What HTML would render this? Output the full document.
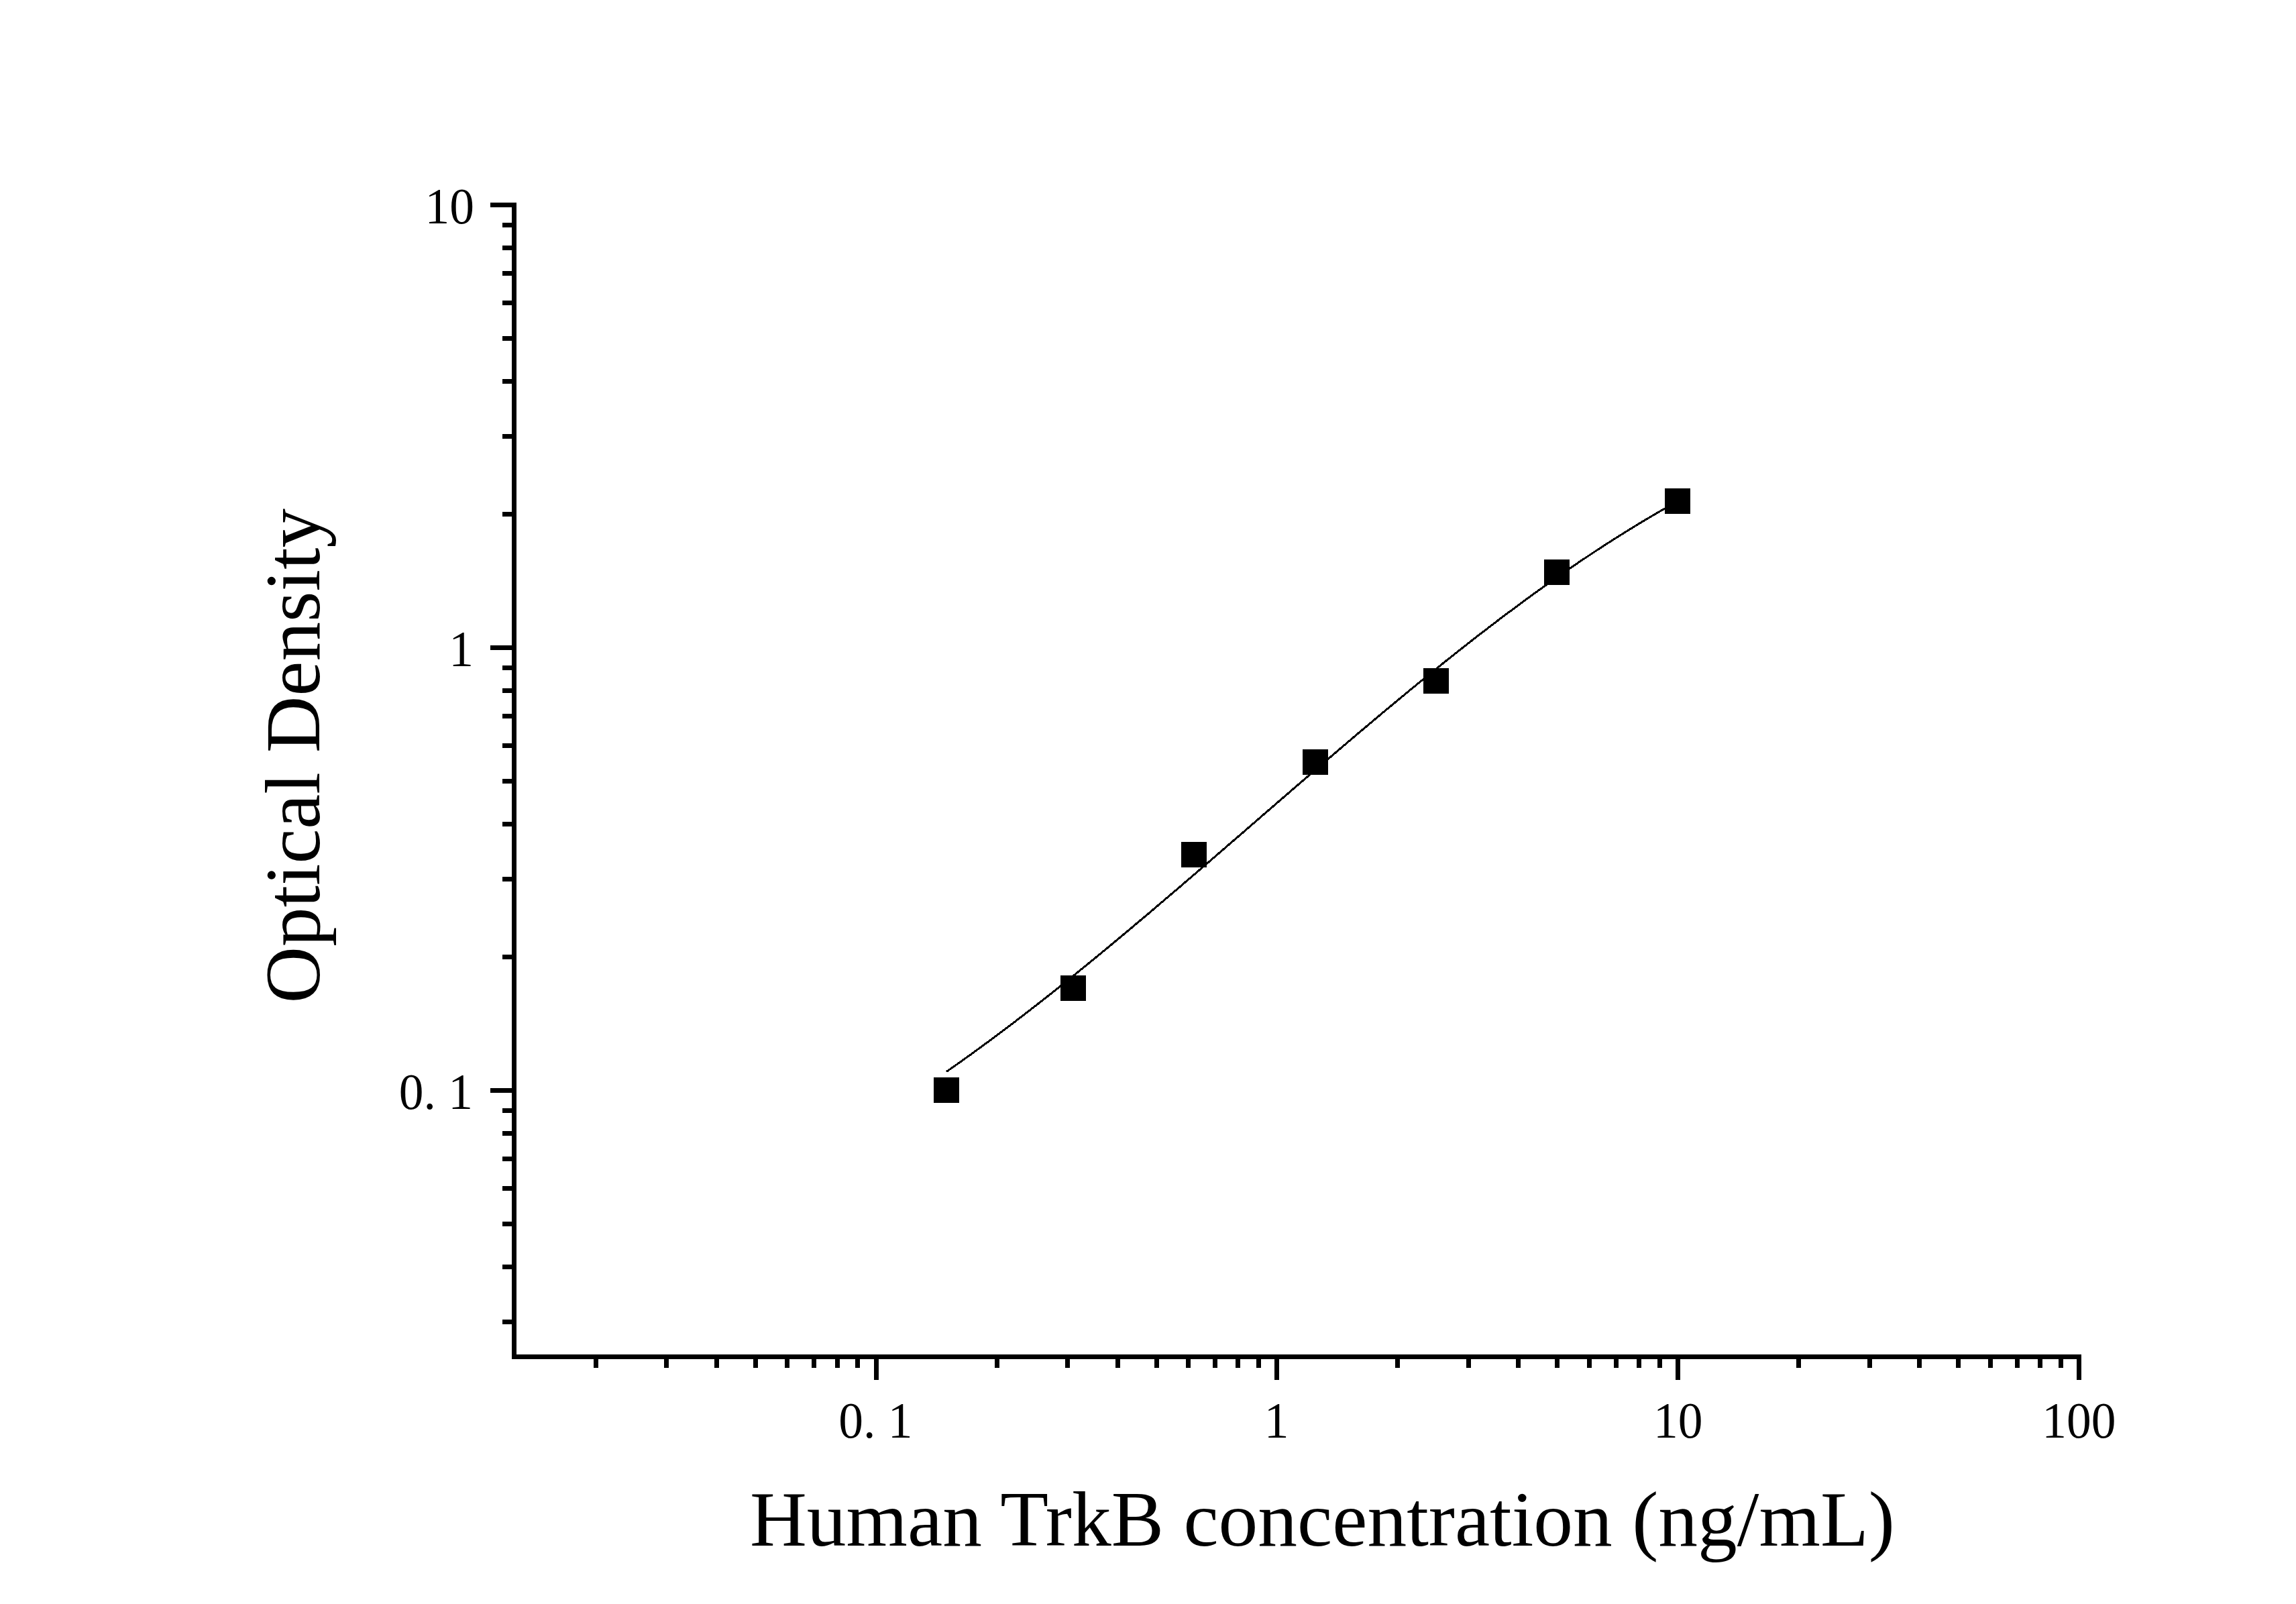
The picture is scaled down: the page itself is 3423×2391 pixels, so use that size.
<!DOCTYPE html>
<html><head><meta charset="utf-8"><style>
html,body{margin:0;padding:0;background:#fff;}
svg{display:block;}
text{font-family:"Liberation Serif", serif;fill:#000;white-space:pre;}
</style></head><body>
<svg width="3423" height="2391" viewBox="0 0 3423 2391">
<rect x="0" y="0" width="3423" height="2391" fill="#fff"/>
<g fill="#000" shape-rendering="crispEdges">
<rect x="763" y="302" width="7" height="1724"/>
<rect x="763" y="2019" width="2340" height="7"/>
<rect x="731" y="302" width="32" height="7"/>
<rect x="731" y="962" width="32" height="7"/>
<rect x="731" y="1622" width="32" height="7"/>
<rect x="749" y="1967" width="14" height="7"/>
<rect x="749" y="1885" width="14" height="7"/>
<rect x="749" y="1821" width="14" height="7"/>
<rect x="749" y="1768" width="14" height="7"/>
<rect x="749" y="1724" width="14" height="7"/>
<rect x="749" y="1686" width="14" height="7"/>
<rect x="749" y="1652" width="14" height="7"/>
<rect x="749" y="1423" width="14" height="7"/>
<rect x="749" y="1307" width="14" height="7"/>
<rect x="749" y="1225" width="14" height="7"/>
<rect x="749" y="1161" width="14" height="7"/>
<rect x="749" y="1108" width="14" height="7"/>
<rect x="749" y="1064" width="14" height="7"/>
<rect x="749" y="1026" width="14" height="7"/>
<rect x="749" y="992" width="14" height="7"/>
<rect x="749" y="763" width="14" height="7"/>
<rect x="749" y="647" width="14" height="7"/>
<rect x="749" y="565" width="14" height="7"/>
<rect x="749" y="501" width="14" height="7"/>
<rect x="749" y="448" width="14" height="7"/>
<rect x="749" y="404" width="14" height="7"/>
<rect x="749" y="366" width="14" height="7"/>
<rect x="749" y="332" width="14" height="7"/>
<rect x="1303" y="2026" width="7" height="31"/>
<rect x="1900" y="2026" width="7" height="31"/>
<rect x="2498" y="2026" width="7" height="31"/>
<rect x="3096" y="2026" width="7" height="31"/>
<rect x="885" y="2026" width="7" height="13"/>
<rect x="990" y="2026" width="7" height="13"/>
<rect x="1065" y="2026" width="7" height="13"/>
<rect x="1123" y="2026" width="7" height="13"/>
<rect x="1170" y="2026" width="7" height="13"/>
<rect x="1210" y="2026" width="7" height="13"/>
<rect x="1245" y="2026" width="7" height="13"/>
<rect x="1275" y="2026" width="7" height="13"/>
<rect x="1483" y="2026" width="7" height="13"/>
<rect x="1588" y="2026" width="7" height="13"/>
<rect x="1663" y="2026" width="7" height="13"/>
<rect x="1721" y="2026" width="7" height="13"/>
<rect x="1768" y="2026" width="7" height="13"/>
<rect x="1808" y="2026" width="7" height="13"/>
<rect x="1842" y="2026" width="7" height="13"/>
<rect x="1873" y="2026" width="7" height="13"/>
<rect x="2080" y="2026" width="7" height="13"/>
<rect x="2186" y="2026" width="7" height="13"/>
<rect x="2260" y="2026" width="7" height="13"/>
<rect x="2318" y="2026" width="7" height="13"/>
<rect x="2366" y="2026" width="7" height="13"/>
<rect x="2406" y="2026" width="7" height="13"/>
<rect x="2440" y="2026" width="7" height="13"/>
<rect x="2471" y="2026" width="7" height="13"/>
<rect x="2678" y="2026" width="7" height="13"/>
<rect x="2784" y="2026" width="7" height="13"/>
<rect x="2858" y="2026" width="7" height="13"/>
<rect x="2916" y="2026" width="7" height="13"/>
<rect x="2964" y="2026" width="7" height="13"/>
<rect x="3004" y="2026" width="7" height="13"/>
<rect x="3038" y="2026" width="7" height="13"/>
<rect x="3069" y="2026" width="7" height="13"/>
<rect x="1392" y="1606" width="38" height="38"/>
<rect x="1581" y="1454" width="38" height="38"/>
<rect x="1761" y="1255" width="38" height="38"/>
<rect x="1942" y="1117" width="38" height="38"/>
<rect x="2122" y="996" width="38" height="38"/>
<rect x="2302" y="834" width="38" height="38"/>
<rect x="2482" y="728" width="38" height="38"/>
</g>
<polyline points="1411.0,1597.5 1420.2,1591.1 1429.3,1584.7 1438.5,1578.1 1447.6,1571.6 1456.8,1564.9 1466.0,1558.2 1475.1,1551.5 1484.3,1544.7 1493.4,1537.8 1502.6,1530.9 1511.8,1524.0 1520.9,1517.0 1530.1,1509.9 1539.2,1502.8 1548.4,1495.7 1557.6,1488.5 1566.7,1481.3 1575.9,1474.0 1585.0,1466.7 1594.2,1459.3 1603.4,1452.0 1612.5,1444.5 1621.7,1437.1 1630.8,1429.6 1640.0,1422.1 1649.2,1414.5 1658.3,1406.9 1667.5,1399.3 1676.6,1391.7 1685.8,1384.0 1694.9,1376.3 1704.1,1368.6 1713.3,1360.9 1722.4,1353.1 1731.6,1345.3 1740.7,1337.5 1749.9,1329.7 1759.1,1321.9 1768.2,1314.0 1777.4,1306.2 1786.5,1298.3 1795.7,1290.4 1804.9,1282.5 1814.0,1274.6 1823.2,1266.7 1832.3,1258.8 1841.5,1250.9 1850.7,1243.0 1859.8,1235.0 1869.0,1227.1 1878.1,1219.2 1887.3,1211.2 1896.5,1203.3 1905.6,1195.4 1914.8,1187.5 1923.9,1179.6 1933.1,1171.7 1942.3,1163.8 1951.4,1155.9 1960.6,1148.0 1969.7,1140.2 1978.9,1132.3 1988.1,1124.5 1997.2,1116.7 2006.4,1108.9 2015.5,1101.1 2024.7,1093.3 2033.9,1085.6 2043.0,1077.9 2052.2,1070.2 2061.3,1062.5 2070.5,1054.9 2079.7,1047.3 2088.8,1039.7 2098.0,1032.1 2107.1,1024.6 2116.3,1017.1 2125.5,1009.6 2134.6,1002.2 2143.8,994.8 2152.9,987.5 2162.1,980.2 2171.3,972.9 2180.4,965.7 2189.6,958.5 2198.7,951.3 2207.9,944.2 2217.1,937.2 2226.2,930.2 2235.4,923.2 2244.5,916.3 2253.7,909.5 2262.8,902.7 2272.0,895.9 2281.2,889.2 2290.3,882.6 2299.5,876.0 2308.6,869.5 2317.8,863.0 2327.0,856.6 2336.1,850.2 2345.3,844.0 2354.4,837.7 2363.6,831.6 2372.8,825.5 2381.9,819.4 2391.1,813.5 2400.2,807.6 2409.4,801.8 2418.6,796.0 2427.7,790.3 2436.9,784.7 2446.0,779.1 2455.2,773.6 2464.4,768.2 2473.5,762.9 2482.7,757.6 2491.8,752.4 2501.0,747.3" fill="none" stroke="#000" stroke-width="3.0" stroke-linejoin="round" shape-rendering="crispEdges"/>
<text x="0" y="0" text-anchor="end" font-size="77" transform="translate(707,332.5) scale(0.955,1)">10</text>
<text x="0" y="0" text-anchor="end" font-size="77" transform="translate(706,992.5) scale(0.955,1)">1</text>
<text x="0" y="0" text-anchor="end" font-size="77" transform="translate(705,1652.5) scale(0.955,1)">0. 1</text>
<text x="0" y="0" text-anchor="middle" font-size="77" transform="translate(1305.5,2143) scale(0.955,1)">0. 1</text>
<text x="0" y="0" text-anchor="middle" font-size="77" transform="translate(1903.2,2143) scale(0.955,1)">1</text>
<text x="0" y="0" text-anchor="middle" font-size="77" transform="translate(2501.8,2143) scale(0.955,1)">10</text>
<text x="0" y="0" text-anchor="middle" font-size="77" transform="translate(3099.5,2143) scale(0.955,1)">100</text>
<text x="1118" y="2303.5" text-anchor="start" font-size="117.5">Human TrkB concentration (ng/mL)</text>
<text x="0" y="0" text-anchor="start" font-size="117" transform="translate(476,1495.6) rotate(-90)">Optical Density</text>
</svg>
</body></html>
